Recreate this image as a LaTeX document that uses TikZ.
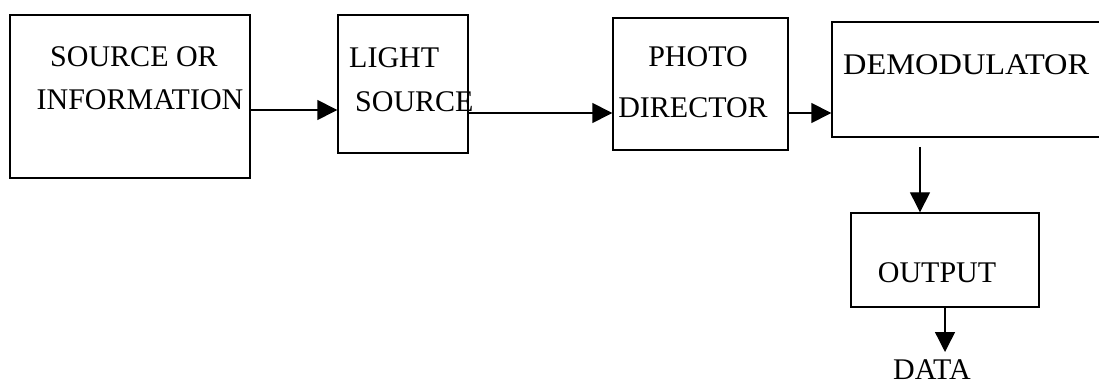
\documentclass[tikz,border=0pt]{standalone}
\usepackage{fontspec}
\setmainfont{Liberation Serif}
\usetikzlibrary{arrows.meta}
\begin{document}
\begin{tikzpicture}[x=1pt,y=-1pt,
  box/.style={draw,line width=1.4pt,inner sep=0pt},
  lbl/.style={font=\fontsize{30}{36}\selectfont,inner sep=0pt,anchor=base},
  arr/.style={line width=1.4pt,-{Triangle[length=20pt,width=20pt]}}]
\useasboundingbox (0,0) rectangle (1099,387);
\clip (0,0) rectangle (1099,387);
% boxes
\node[box,minimum width=240pt,minimum height=163pt] (b1) at (130,96.5) {};
\node[box,minimum width=130pt,minimum height=138pt] (b2) at (403,84) {};
\node[box,minimum width=175pt,minimum height=132pt] (b3) at (700.5,84) {};
\node[box,minimum width=288pt,minimum height=115pt] (b4) at (976,79.5) {};
\node[box,minimum width=188pt,minimum height=94pt] (b5) at (945,260) {};
% labels
\node[lbl] (t1a) at (134,67) {SOURCE OR};
\node[lbl] (t1b) at (140,110) {INFORMATION};
\node[lbl,anchor=base west] (t2a) at (349,68) {LIGHT};
\node[lbl,anchor=base west] (t2b) at (355,112) {SOURCE};
\node[lbl] (t3a) at (698,67) {PHOTO};
\node[lbl] (t3b) at (693,118) {DIRECTOR};
\node[lbl,anchor=base west,xscale=1.08] (t4) at (843,75) {DEMODULATOR};
\node[lbl] (t5) at (937,282) {OUTPUT};
\node[lbl] (t6) at (932,379) {DATA};
% connectors
\coordinate (r1) at (0,110);
\coordinate (r2) at (0,113);
\coordinate (c4) at (920,147);
\coordinate (dtip) at (945,352);
\draw[arr] (b1.east |- r1) -- (b2.west |- r1);
\draw[arr] (b2.east |- r2) -- (b3.west |- r2);
\draw[arr] (b3.east |- r2) -- (b4.west |- r2);
\draw[arr] (c4) -- (c4 |- b5.north);
\draw[arr] (b5.south) -- (dtip);
\end{tikzpicture}
\end{document}
